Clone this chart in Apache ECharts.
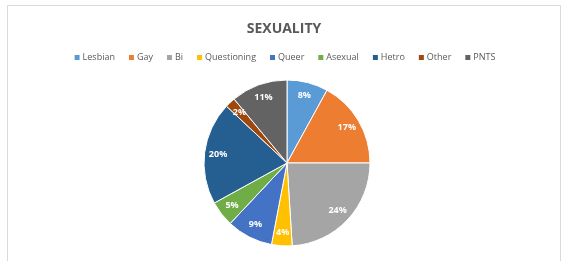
<!DOCTYPE html>
<html><head><meta charset="utf-8">
<script src="https://cdn.jsdelivr.net/npm/echarts@6/dist/echarts.min.js"></script>
<style>html,body{margin:0;padding:0;background:#fff}#c{width:568px;height:261px}</style>
</head><body><div id="c"></div>
<script>
const categories = ['Lesbian','Gay','Bi','Questioning','Queer','Asexual','Hetro','Other','PNTS'];
const values = [8,17,24,4,9,5,20,2,11];
const colors = ['#5B9BD5','#ED7D31','#A5A5A5','#FFC000','#4472C4','#70AD47','#255E91','#9E480E','#636363'];
const title = 'SEXUALITY';

const chart = echarts.init(document.getElementById('c'), null, {renderer:'canvas'});
const data = categories.map((n,i)=>({name:n, value:values[i], itemStyle:{color:colors[i]}}));
const center = [287,163];
chart.setOption({
  animation:false,
  graphic:[{type:'rect',shape:{x:7.5,y:5.5,width:553,height:262},style:{fill:'none',stroke:'#D9D9D9',lineWidth:1}}],
  title:{text:title,left:'center',top:17,textStyle:{fontFamily:'Open Sans',fontSize:14,fontWeight:'bold',color:'#595959'}},
  legend:{data:categories,top:48,left:'center',itemWidth:7,itemHeight:7,itemGap:12,icon:'rect',
    textStyle:{fontFamily:'Open Sans',fontSize:9,color:'#595959',padding:[0,0,0,-3]}},
  series:[
    {type:'pie',center:center,radius:[0,83],startAngle:90,clockwise:true,data:data,
     label:{show:false},labelLine:{show:false},
     itemStyle:{borderColor:'#fff',borderWidth:1},emphasis:{disabled:true}},
    {type:'pie',center:center,radius:[50,83],startAngle:90,clockwise:true,silent:true,
     data:categories.map((n,i)=>({name:n,value:values[i],itemStyle:{color:'rgba(0,0,0,0)'}})),
     label:{show:true,position:'inside',formatter:'{c}%',color:'#fff',fontFamily:'Open Sans',fontSize:9,fontWeight:'bold'},
     labelLine:{show:false},emphasis:{disabled:true},legendHoverLink:false}
  ]
});
</script></body></html>
